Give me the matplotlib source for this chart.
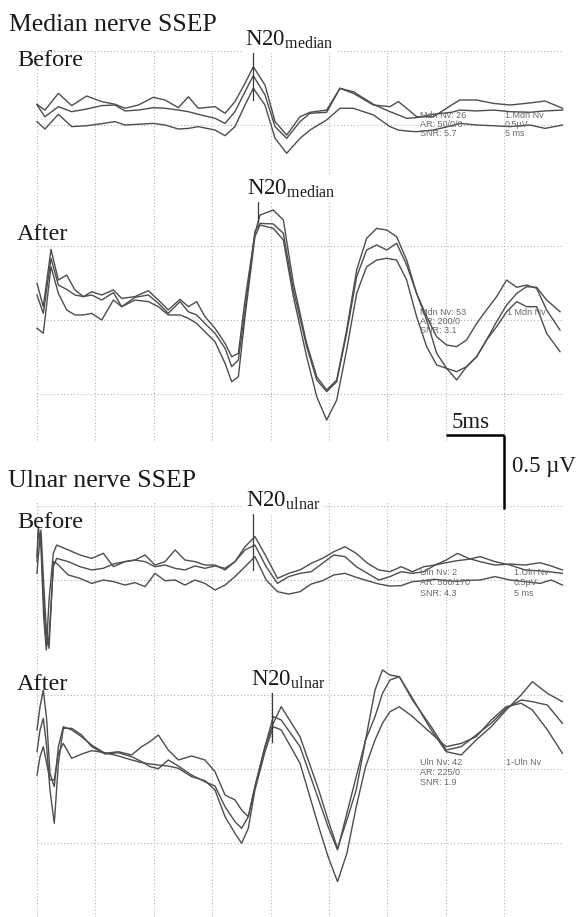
import matplotlib
matplotlib.use("Agg")
import matplotlib.pyplot as plt

plt.rcParams['font.family'] = ['Liberation Serif', 'DejaVu Serif']
plt.rcParams['mathtext.fontset'] = 'custom'
plt.rcParams['mathtext.rm'] = 'Liberation Serif'
plt.rcParams['mathtext.it'] = 'Liberation Serif:italic'

# ---------------- data (time in ms, amplitude in microvolts) ----------------
MED_BEFORE_T = [0, 0.68, 1.83, 2.97, 4.25, 5.54, 6.68, 7.53, 8.68, 9.96, 10.96, 12.1, 12.96,
                13.81, 15.24, 16.1, 16.95, 17.81, 18.52, 19.52, 20.38,
                21.38, 22.52, 23.37, 24.8, 25.94, 27.08, 28.8, 30.22, 30.94, 31.65, 32.5,
                33.93, 35.5, 36.2, 37.64, 39.07, 40.5, 42.2, 43.5, 45.0]
MED_BEFORE_1 = [0.14, 0.10, 0.214, 0.131, 0.196, 0.158, 0.14, 0.113, 0.135, 0.187, 0.169, 0.117,
                0.191, 0.113, 0.124, 0.079, 0.158, 0.282, 0.394, 0.27, 0.023,
                -0.068, 0.056, 0.086, 0.101, 0.248, 0.214, 0.135, 0.124, 0.158, 0.113, 0.056,
                0.056, 0.135, 0.169, 0.169, 0.146, 0.135, 0.149, 0.162, 0.113]
MED_BEFORE_2 = [0.135, 0.056, 0.124, 0.09, 0.108, 0.131, 0.135, 0.095, 0.101, 0.117, 0.113, 0.101,
                0.09, 0.072, 0.045, 0.011, 0.09, 0.225, 0.333, 0.203, -0.011,
                -0.09, 0.023, 0.079, 0.086, 0.248, 0.225, 0.14, 0.09, 0.068, 0.045, 0.05,
                0.072, 0.086, 0.101, 0.095, 0.101, 0.09, 0.086, 0.095, 0.101]
MED_BEFORE_3 = [0.023, -0.027, 0.072, -0.011, -0.005, 0.009, 0.023, 0, 0.005, 0.011, 0, -0.027,
                -0.023, -0.011, -0.034, -0.072, -0.011, 0.135, 0.248, 0.135, -0.09,
                -0.191, -0.09, -0.034, 0.034, 0.113, 0.113, 0.068, -0.011, -0.034, -0.041, -0.045,
                -0.034, -0.005, 0.011, 0, -0.005, -0.011, 0, -0.023, 0]

MED_AFTER_T = [0, 0.54, 1.2, 1.83, 2.54, 3.25, 3.97, 4.68, 5.54, 6.54, 7.25, 8.39, 9.53, 10.39,
               11.24, 12.24, 12.96, 13.67, 14.38, 15.24, 16.1, 16.67, 17.24, 17.81, 18.66,
               19.09, 20.23, 21.09, 21.95, 23.09, 23.95, 24.8, 25.66, 26.51, 27.37, 28.22, 29.08,
               29.94, 30.79, 31.65, 32.5, 33.36, 34.22, 35.07, 35.93, 36.78, 37.64, 38.49, 39.35,
               40.21, 41.07, 41.92, 42.78, 43.63, 44.78]
MED_AFTER_1 = [0.248, 0.09, 0.477, 0.27, 0.304, 0.203, 0.158, 0.191, 0.169, 0.203, 0.146, 0.158,
               0.198, 0.135, 0.068, 0.14, 0.09, 0.124, 0.023, -0.056, -0.158, -0.248, -0.225,
               0.135, 0.586,
               0.709, 0.743, 0.676, 0.248, -0.158, -0.383, -0.473, -0.405, -0.068, 0.338, 0.552,
               0.619, 0.608, 0.563, 0.405, 0.18, 0.023, -0.113, -0.169, -0.18, -0.135, -0.023,
               0.068, 0.158, 0.27, 0.221, 0.236, 0.214, 0.068, -0.068]
MED_AFTER_2 = [0.169, 0.045, 0.417, 0.236, 0.207, 0.169, 0.158, 0.169, 0.135, 0.185, 0.09, 0.153,
               0.169, 0.113, 0.045, 0.124, 0.056, 0.034, -0.023, -0.09, -0.191, -0.315, -0.27,
               0.068, 0.597,
               0.653, 0.649, 0.586, 0.203, -0.18, -0.405, -0.484, -0.417, -0.09, 0.293, 0.473,
               0.507, 0.473, 0.518, 0.372, 0.18, 0, -0.225, -0.327, -0.405, -0.315, -0.248,
               -0.135, -0.011, 0.101, 0.18, 0.225, 0.221, 0.135, 0.056]
MED_AFTER_3 = [-0.056, -0.09, 0.36, 0.18, 0.068, 0.034, 0.034, 0.045, 0, 0.135, 0.09, 0.135,
               0.124, 0.09, 0.034, 0.034, 0.011, -0.023, -0.079, -0.146, -0.293, -0.417, -0.383,
               0.023, 0.563,
               0.642, 0.619, 0.541, 0.158, -0.248, -0.518, -0.676, -0.541, -0.203, 0.18, 0.36,
               0.405, 0.417, 0.405, 0.27, 0.023, -0.18, -0.304, -0.327, -0.349, -0.315, -0.248,
               -0.135, -0.045, 0.056, 0.124, 0.09, 0.09, -0.09, -0.214]

ULN_BEFORE_T = [0, 0.11, 0.34, 0.57, 0.8, 1.03, 1.4, 1.68, 2.68, 3.68, 4.68, 5.68, 6.54, 7.53,
                8.39, 9.25, 10.1, 10.96, 11.82, 12.67, 13.53, 14.38, 15.24, 16.1, 16.95, 17.81,
                18.66, 19.62, 20.59, 21.55, 22.52, 23.48, 24.44, 25.41, 26.37, 27.33, 28.3,
                29.26, 30.22, 31.18, 32.15, 33.11, 34.08, 35.03, 36.0, 36.96, 37.93, 39.21,
                40.5, 41.78, 43.07, 44.02, 44.98]
ULN_BEFORE_1 = [0.158, 0.36, 0.225, -0.248, -0.473, -0.135, 0.18, 0.236, 0.203, 0.169, 0.146,
                0.18, 0.09, 0.124, 0.135, 0.169, 0.101, 0.124, 0.203, 0.135, 0.124, 0.101, 0.101,
                0.068, 0.124, 0.225,
                0.293, 0.158, 0.011, 0.045, 0.068, 0.113, 0.146, 0.191, 0.225, 0.18, 0.113, 0.068,
                0.056, 0.09, 0.056, 0.09, 0.101, 0.135, 0.18, 0.146, 0.124, 0.101, 0.108, 0.101,
                0.117, 0.095, 0.068]
ULN_BEFORE_2 = [0.124, 0.315, 0.27, -0.135, -0.45, -0.383, 0.09, 0.146, 0.124, 0.09, 0.068,
                0.079, 0.108, 0.124, 0.135, 0.124, 0.09, 0.101, 0.079, 0.068, 0.095, 0.079, 0.095,
                0.079, 0.124, 0.203,
                0.236, 0.09, -0.023, 0.023, 0.045, 0.056, 0.113, 0.169, 0.158, 0.09, 0.045, 0,
                0.023, 0.056, 0.045, 0.056, 0.101, 0.117, 0.131, 0.14, 0.158, 0.124, 0.101, 0.068,
                0.061, 0.054, 0.045]
ULN_BEFORE_3 = [0.045, 0.158, 0.338, -0.023, -0.338, -0.462, 0.124, 0.113, 0.034, 0.011, -0.023,
                0, -0.011, -0.034, -0.018, -0.045, 0.045, -0.005, 0, -0.034, 0, -0.023, -0.068,
                -0.034, 0.023, 0.09,
                0.158, 0, -0.079, -0.095, -0.079, -0.027, -0.005, 0.034, 0.045, 0.018, -0.005,
                -0.027, -0.041, -0.038, -0.011, -0.005, 0.005, -0.005, -0.009, -0.002, 0, 0.023,
                0, -0.011, -0.023, 0, -0.034]

ULN_AFTER_T = [0, 0.26, 0.54, 0.83, 1.11, 1.48, 1.83, 2.25, 2.97, 3.82, 4.68, 5.82, 6.96, 8.11,
               8.96, 9.67, 10.39, 11.24, 12.1, 13.24, 14.38, 15.24, 16.1, 16.95, 17.52, 18.09,
               18.66, 19.52, 20.23,
               20.91, 22.52, 24.12, 24.92, 25.73, 26.53, 27.33, 28.13, 28.94, 29.58, 30.22, 31.02,
               32.15, 33.75, 35.03, 36.32, 37.6, 38.89, 40.17, 41.45, 42.41, 43.7, 44.98]
ULN_AFTER_1 = [0.264, 0.421, 0.534, 0.331, -0.029, -0.119, 0.151, 0.286, 0.264, 0.218, 0.162,
               0.106, 0.117, 0.095, 0.151, 0.185, 0.23, 0.128, 0.061, 0.088, 0.061, -0.018,
               -0.176, -0.209, -0.277, -0.322, -0.119, 0.151, 0.309,
               0.421, 0.218, -0.142, -0.345, -0.536, -0.345, -0.142, 0.196, 0.534, 0.669, 0.635,
               0.624, 0.466, 0.286, 0.128, 0.151, 0.23, 0.309, 0.41, 0.466, 0.455, 0.432, 0.309]
ULN_AFTER_2 = [0.117, 0.264, 0.342, 0.151, -0.142, -0.367, 0.038, 0.275, 0.275, 0.23, 0.151,
               0.101, 0.11, 0.083, 0.05, 0.016, 0.002, 0.061, 0.02, -0.041, -0.086, -0.115,
               -0.255, -0.356, -0.401, -0.322, -0.119, 0.151, 0.354,
               0.331, 0.151, -0.209, -0.39, -0.547, -0.3, -0.052, 0.196, 0.354, 0.511, 0.601,
               0.624, 0.477, 0.264, 0.117, 0.095, 0.196, 0.286, 0.399, 0.5, 0.59, 0.511, 0.455]
ULN_AFTER_3 = [-0.041, 0.083, 0.151, 0.038, -0.074, -0.074, 0.106, 0.173, 0.072, 0.101, 0.124,
               0.11, 0.088, 0.061, 0.043, 0.034, 0.027, 0.02, 0.005, -0.052, -0.079, -0.142,
               -0.322, -0.435, -0.502, -0.401, -0.142, 0.117, 0.286,
               0.264, 0.038, -0.39, -0.592, -0.761, -0.57, -0.255, 0.016, 0.196, 0.309, 0.387,
               0.421, 0.354, 0.241, 0.151, 0.173, 0.218, 0.331, 0.421, 0.444, 0.399, 0.264, 0.106]

N20_MS = [18.5, 18.95, 18.5, 20.1]          # N20 latency markers (ms)
GRID_MS = [0, 5, 10, 15, 20, 25, 30, 35, 40]
SCALE_MS = 5
SCALE_UV = 0.5

PANEL_LABELS = ["Before", "After", "Before", "After"]
N20_SUBS = ["median", "median", "ulnar", "ulnar"]
TITLES = ["Median nerve SSEP", "Ulnar nerve SSEP"]
INFO_LEFT = [["Mdn Nv: 26", "AR: 50/0/0", "SNR: 5.7"],
             ["Mdn Nv: 53", "AR: 200/0", "SNR: 3.1"],
             ["Uln Nv: 2", "AR: 500/170", "SNR: 4.3"],
             ["Uln Nv: 42", "AR: 225/0", "SNR: 1.9"]]
INFO_RIGHT = [["1.Mdn Nv", "0.5\u00b5V", "5 ms"],
              ["1 Mdn Nv", "", ""],
              ["1.Uln Nv", "0.5\u00b5V", "5 ms"],
              ["1-Uln Nv", "", ""]]

# ---------------- layout ----------------
W, H = 585, 917
X0 = 37.0          # pixel column of t = 0
PX_MS = 11.68      # pixels per ms
PX_UV = 148.0      # pixels per microvolt
BASE_PX = [125, 320, 580, 769]
GRID_UP = [1, 1, 1, 1]
GRID_DOWN = [0, 1, 0, 1]

fig = plt.figure(figsize=(W / 100, H / 100), dpi=100)
fig.patch.set_facecolor("white")
ax = fig.add_axes([0, 0, 1, 1])
ax.set_xlim(-X0 / PX_MS, (W - X0) / PX_MS)
ax.set_ylim(0, H / PX_UV)
ax.axis("off")


def yrow(py):
    return (H - py) / PX_UV


def fx(px):
    return px / W


def fy(py):
    return 1 - py / H


grid_kw = dict(color="#b4b4b4", lw=0.8, linestyles=(0, (1, 2)), zorder=1)
# vertical grid blocks
ax.vlines(GRID_MS, yrow(440), yrow(50), **grid_kw)
ax.vlines(GRID_MS, yrow(H), yrow(502), **grid_kw)
for i, b in enumerate(BASE_PX):
    off = yrow(b)
    levels = [off + k * SCALE_UV for k in range(-GRID_DOWN[i], GRID_UP[i] + 1)]
    ax.hlines(levels, 0, 45, **grid_kw)

panels = [
    (MED_BEFORE_T, [MED_BEFORE_1, MED_BEFORE_2, MED_BEFORE_3]),
    (MED_AFTER_T, [MED_AFTER_1, MED_AFTER_2, MED_AFTER_3]),
    (ULN_BEFORE_T, [ULN_BEFORE_1, ULN_BEFORE_2, ULN_BEFORE_3]),
    (ULN_AFTER_T, [ULN_AFTER_1, ULN_AFTER_2, ULN_AFTER_3]),
]
for i, (t, traces) in enumerate(panels):
    off = yrow(BASE_PX[i])
    for tr in traces:
        ax.plot(t, [v + off for v in tr], color="#4d4d4d", lw=1.0,
                solid_joinstyle="round", zorder=3)

# N20 markers (pixel extents of the tick line)
MARK_PX = [(52, 100), (195, 222), (508, 570), (693, 742)]
for i, t in enumerate(N20_MS):
    ax.plot([t, t], [yrow(MARK_PX[i][0]), yrow(MARK_PX[i][1])], color="#3a3a3a",
            lw=0.9, zorder=4)

# scale bars
bar_y = yrow(435)
ax.plot([40 - SCALE_MS, 40], [bar_y, bar_y], color="black", lw=1.8,
        solid_capstyle="butt", zorder=5)
ax.plot([40, 40], [bar_y, bar_y - SCALE_UV], color="black", lw=1.8,
        solid_capstyle="butt", zorder=5)

# text
txt = dict(color="#1a1a1a", va="baseline", ha="left")
fig.text(fx(9), fy(31), TITLES[0], fontsize=18.5, **txt)
fig.text(fx(8), fy(487), TITLES[1], fontsize=18.5, **txt)
for (x, y), lab in zip([(17, 66), (17, 240), (17, 528), (17, 690)], PANEL_LABELS):
    fig.text(fx(x), fy(y), lab, fontsize=17.5, zorder=2, **txt)
for (x, y), sub in zip([(245, 46), (247, 195), (246, 507), (251, 686)], N20_SUBS):
    fig.text(fx(x), fy(y), "N20$_{\\mathrm{%s}}$" % sub, fontsize=16.5, zorder=6,
             bbox=dict(facecolor="white", edgecolor="none", pad=1.5), **txt)
fig.text(fx(452), fy(428), "%dms" % SCALE_MS, fontsize=16.5, **txt)
fig.text(fx(512), fy(472), "%.1f \u00b5V" % SCALE_UV, fontsize=16.5, **txt)

info_kw = dict(fontsize=6.5, color="#6a6a6a", family=["Liberation Sans", "DejaVu Sans"],
               va="baseline", ha="left", zorder=7)
INFO_ROWS = [(118, 127, 136), (315, 324, 333), (575, 585, 596), (765, 775, 785)]
INFO_RX = [505, 507, 514, 506]
for i in range(4):
    for j in range(3):
        fig.text(fx(420), fy(INFO_ROWS[i][j]), INFO_LEFT[i][j], **info_kw)
        if INFO_RIGHT[i][j]:
            fig.text(fx(INFO_RX[i]), fy(INFO_ROWS[i][j]), INFO_RIGHT[i][j], **info_kw)

fig.savefig("out.png", dpi=100, facecolor="white")
